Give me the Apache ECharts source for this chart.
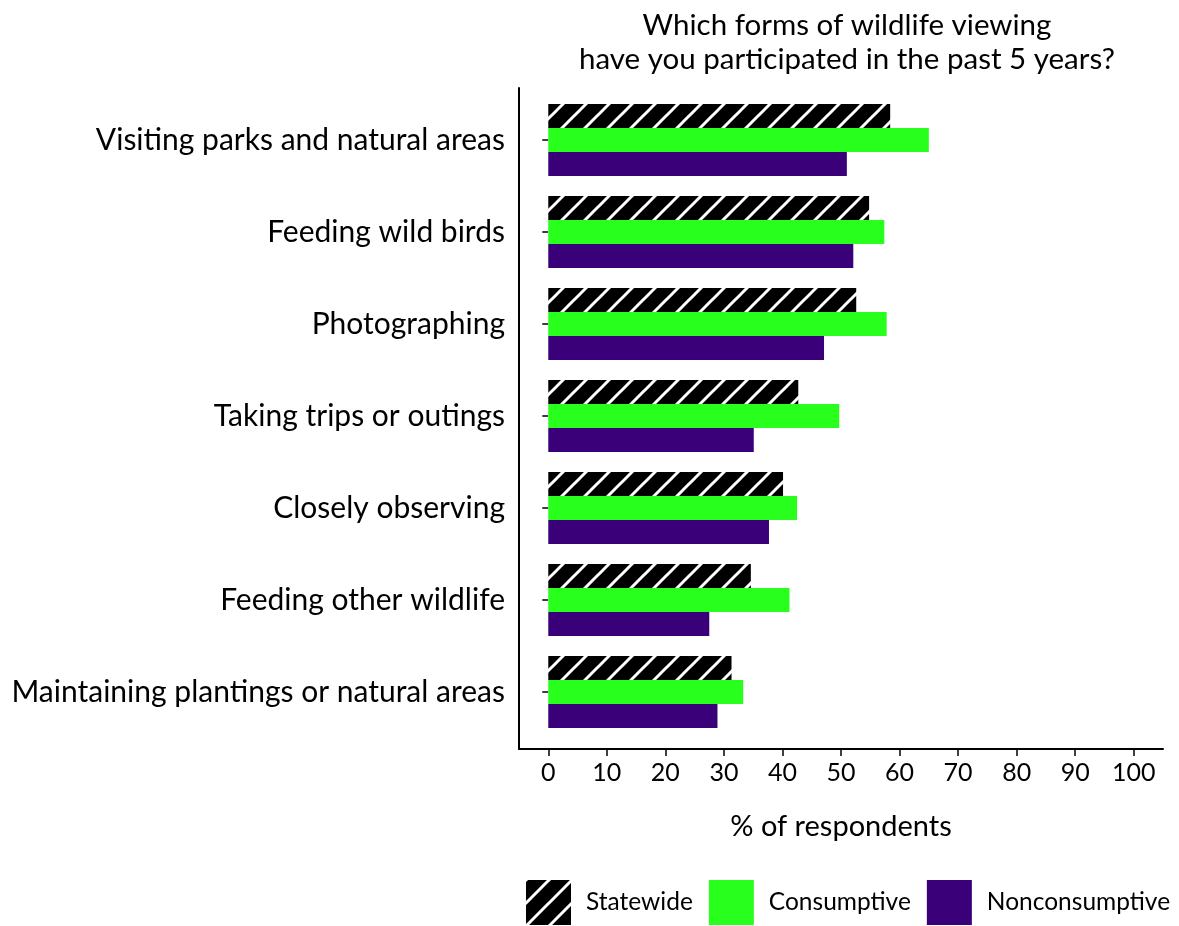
<!DOCTYPE html>
<html>
<head>
<meta charset="utf-8">
<script src="https://cdn.jsdelivr.net/npm/echarts@6/dist/echarts.min.js"></script>
<style>
  html, body { margin: 0; padding: 0; background: #fff; }
  #chart { width: 1179px; height: 926px; }
</style>
</head>
<body>
<div id="chart"></div>
<script>
const categories = [
  'Visiting parks and natural areas',
  'Feeding wild birds',
  'Photographing',
  'Taking trips or outings',
  'Closely observing',
  'Feeding other wildlife',
  'Maintaining plantings or natural areas'
];
const seriesNames = ['Statewide', 'Consumptive', 'Nonconsumptive'];
const statewide = [58.4, 54.8, 52.6, 42.7, 40.1, 34.6, 31.3];
const consumptive = [65.0, 57.4, 57.8, 49.7, 42.5, 41.2, 33.3];
const nonconsumptive = [51.0, 52.1, 47.1, 35.1, 37.7, 27.5, 28.9];
const xTicks = [0, 10, 20, 30, 40, 50, 60, 70, 80, 90, 100];
const titleText = 'Which forms of wildlife viewing\nhave you participated in the past 5 years?';
const xName = '% of respondents';

// hatch pattern: black with white "/" stripes
function makeHatch() {
  const s = 23;
  const c = document.createElement('canvas');
  c.width = s; c.height = s;
  const g = c.getContext('2d');
  g.fillStyle = '#000';
  g.fillRect(0, 0, s, s);
  g.strokeStyle = '#fff';
  g.lineWidth = 3;
  [-s, 0, s].forEach(function (o) {
    g.beginPath();
    g.moveTo(o - 2, s + 2);
    g.lineTo(o + s + 2, -2);
    g.stroke();
  });
  return c;
}
const hatch = { image: makeHatch(), repeat: 'repeat' };

const FONT = 'Lato';
const chart = echarts.init(document.getElementById('chart'), null, { renderer: 'canvas' });

const barBase = {
  type: 'bar',
  xAxisIndex: 0,
  yAxisIndex: 0,
  barWidth: 24,
  barGap: '0%',
  animation: false
};

chart.setOption({
  animation: false,
  title: {
    text: titleText,
    left: 842,
    top: 3,
    textAlign: 'center',
    textStyle: { fontFamily: FONT, fontSize: 29.5, fontWeight: 'normal', color: '#000', lineHeight: 34 }
  },
  legend: {
    data: seriesNames,
    left: 526,
    top: 880,
    width: 900,
    padding: 0,
    itemWidth: 45,
    itemHeight: 45,
    itemGap: 16,
    icon: 'rect',
    textStyle: { fontFamily: FONT, fontSize: 24.5, color: '#000', padding: [0, 0, 0, 10] }
  },
  grid: [
    { left: 519, right: 16, top: 94, height: 644, containLabel: false },
    { left: 519, right: 16, top: 88, height: 661, containLabel: false }
  ],
  xAxis: [
    { type: 'value', gridIndex: 0, min: -5, max: 105, show: false },
    {
      type: 'value', gridIndex: 1, min: -5, max: 105,
      axisLine: { show: true, onZero: false, lineStyle: { color: '#000', width: 2 } },
      axisTick: { show: true, customValues: xTicks, length: 7, lineStyle: { color: '#000', width: 1.5 } },
      axisLabel: { show: true, customValues: xTicks, margin: 11, fontFamily: FONT, fontSize: 25, color: '#000' },
      splitLine: { show: false },
      name: xName,
      nameLocation: 'middle',
      nameGap: 63,
      nameTextStyle: { fontFamily: FONT, fontSize: 29, color: '#000' }
    }
  ],
  yAxis: [
    {
      type: 'category', gridIndex: 0, data: categories, inverse: true,
      axisLine: { show: false },
      axisTick: { show: true, alignWithLabel: true, length: 6, lineStyle: { color: '#000', width: 1.5 } },
      axisLabel: { margin: 14, fontFamily: FONT, fontSize: 30, color: '#000' },
      splitLine: { show: false }
    },
    {
      type: 'value', gridIndex: 1, min: 0, max: 1,
      axisLine: { show: true, onZero: false, lineStyle: { color: '#000', width: 2 } },
      axisTick: { show: false },
      axisLabel: { show: false },
      splitLine: { show: false }
    }
  ],
  series: [
    Object.assign({}, barBase, { name: seriesNames[0], data: statewide, itemStyle: { color: hatch } }),
    Object.assign({}, barBase, { name: seriesNames[1], data: consumptive, itemStyle: { color: '#29FF1C' } }),
    Object.assign({}, barBase, { name: seriesNames[2], data: nonconsumptive, itemStyle: { color: '#3A0079' } })
  ]
});
</script>
</body>
</html>
